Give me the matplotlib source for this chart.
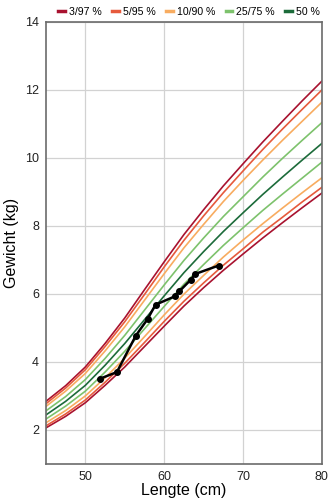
import matplotlib
matplotlib.use("Agg")
import matplotlib.pyplot as plt
from matplotlib.lines import Line2D

plt.rcParams["font.family"] = ["Liberation Sans", "DejaVu Sans"]

# ========================== Data ================================================= #
lengths = [45, 47.5, 50, 52.5, 55, 57.5, 60, 62.5, 65, 67.5, 70, 72.5, 75, 77.5, 80]

p3 = [2.06, 2.40, 2.80, 3.31, 3.85, 4.45, 5.05, 5.64, 6.18, 6.69, 7.17, 7.64, 8.09, 8.53, 8.96]
p5 = [2.12, 2.47, 2.88, 3.40, 3.96, 4.57, 5.19, 5.78, 6.32, 6.84, 7.32, 7.81, 8.25, 8.70, 9.13]
p10 = [2.21, 2.57, 3.00, 3.53, 4.11, 4.74, 5.38, 5.99, 6.54, 7.08, 7.58, 8.06, 8.52, 8.97, 9.41]
p25 = [2.32, 2.70, 3.14, 3.70, 4.31, 4.97, 5.63, 6.28, 6.86, 7.42, 7.94, 8.45, 8.93, 9.40, 9.87]
p50 = [2.44, 2.84, 3.31, 3.90, 4.54, 5.24, 5.94, 6.62, 7.24, 7.83, 8.38, 8.92, 9.43, 9.93, 10.42]
p75 = [2.56, 2.98, 3.48, 4.10, 4.78, 5.52, 6.26, 6.98, 7.64, 8.27, 8.85, 9.43, 9.98, 10.51, 11.03]
p90 = [2.69, 3.14, 3.66, 4.32, 5.03, 5.81, 6.59, 7.35, 8.04, 8.71, 9.33, 9.93, 10.51, 11.07, 11.63]
p95 = [2.77, 3.23, 3.77, 4.45, 5.18, 5.98, 6.79, 7.57, 8.29, 8.97, 9.61, 10.24, 10.84, 11.42, 11.99]
p97 = [2.84, 3.30, 3.85, 4.54, 5.29, 6.12, 6.94, 7.74, 8.47, 9.17, 9.82, 10.46, 11.07, 11.67, 12.25]

# measurements of the child
child_length = [51.9, 54.0, 56.4, 57.9, 58.9, 61.4, 61.9, 63.4, 63.9, 66.9]
child_weight = [3.51, 3.70, 4.77, 5.26, 5.68, 5.93, 6.07, 6.42, 6.58, 6.83]

legend_labels = ["3/97 %", "5/95 %", "10/90 %", "25/75 %", "50 %"]
colors = ["#a8122f", "#e65a3c", "#f8ac60", "#7dc26c", "#1c6b3a"]

# ========================== Plot ============================== #
fig = plt.figure(figsize=(3.35, 5.0), dpi=100)
ax = fig.add_axes([0.137, 0.072, 0.824, 0.885])

curves = [(p3, 0), (p97, 0), (p5, 1), (p95, 1), (p10, 2), (p90, 2), (p25, 3), (p75, 3), (p50, 4)]
for values, c in curves:
    ax.plot(lengths, values, "-", color=colors[c], linewidth=1.2, zorder=2)

ax.plot(child_length, child_weight, "-o", color="black", linewidth=1.8,
        markersize=4, zorder=3)

ax.set_xlim(45, 80)
ax.set_ylim(1, 14)
ax.set_xticks([50, 60, 70, 80])
ax.set_yticks([2, 4, 6, 8, 10, 12, 14])
ax.grid(True, color="#d2d2d2", linewidth=0.9)
ax.set_axisbelow(True)
ax.tick_params(length=0, labelsize=9, pad=5, colors="#222222")
for s in ax.spines.values():
    s.set_color("#6b6b6b")
    s.set_linewidth(1.2)

ax.set_xlabel("Lengte (cm)", fontsize=11.5, labelpad=0)
ax.set_ylabel("Gewicht (kg)", fontsize=11.5, labelpad=4)

handles = [Line2D([0], [0], color=c, linewidth=2.5) for c in colors]
ax.legend(handles, legend_labels, ncol=5, loc="lower right", bbox_to_anchor=(1.0, 1.005),
          frameon=False, fontsize=7.6, handlelength=0.6, handletextpad=0.4,
          columnspacing=1.0, borderaxespad=0.1, borderpad=0.1)

plt.savefig("out.png", dpi=100)
plt.close()
